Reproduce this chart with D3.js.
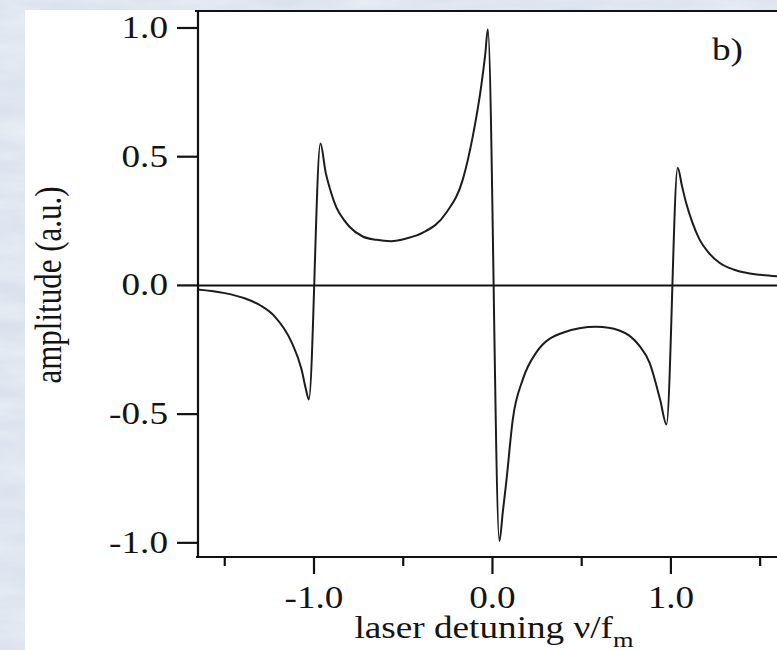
<!DOCTYPE html>
<html>
<head>
<meta charset="utf-8">
<script src="https://cdn.jsdelivr.net/npm/d3@7"></script>
<style>
  body { margin: 0; background: #dfe6f1; }
  svg { display: block; }
  text { font-family: "Liberation Serif", "Times New Roman", serif; fill: #141414; }
</style>
</head>
<body>
<svg id="chart" width="777" height="650"></svg>
<script>
// detuning (v / f_m)
const detuning = [-1.653, -1.50, -1.389, -1.30, -1.221, -1.126, -1.07, -1.045, -1.029,
  -0.964, -0.935, -0.904, -0.876, -0.829, -0.801, -0.727, -0.65, -0.568, -0.48, -0.39,
  -0.259, -0.166, -0.11, -0.063, -0.040, -0.026,
  0.039, 0.058, 0.077, 0.114, 0.17, 0.245, 0.394, 0.581, 0.65, 0.711, 0.767, 0.824, 0.88, 0.94, 0.975,
  1.038, 1.062, 1.085, 1.12, 1.16, 1.21, 1.272, 1.35, 1.421, 1.50, 1.6]
// amplitude (a.u.)
const amplitude = [-0.016, -0.030, -0.050, -0.078, -0.12, -0.22, -0.326, -0.404, -0.443,
  0.551, 0.44, 0.36, 0.305, 0.252, 0.228, 0.190, 0.177, 0.172, 0.183, 0.205,
  0.282, 0.412, 0.58, 0.774, 0.90, 0.995,
  -0.993, -0.88, -0.766, -0.52, -0.365, -0.261, -0.184, -0.161, -0.164, -0.175, -0.195, -0.235, -0.30, -0.445, -0.54,
  0.457, 0.386, 0.321, 0.245, 0.179, 0.128, 0.088, 0.062, 0.049, 0.041, 0.035]

const xMajor = [-1, 0, 1]
const xMajorLabels = ['-1.0', '0.0', '1.0']
const xMinor = [-1.5, -0.5, 0.5, 1.5]
const yTicks = [-1, -0.5, 0, 0.5, 1]
const yTickLabels = ['-1.0', '-0.5', '0.0', '0.5', '1.0']

const svg = d3.select('#chart')
const stretch = 'scale(1.2,1)'

// marbled backdrop
const defs = svg.append('defs')
const marble = defs.append('filter').attr('id', 'marble')
  .attr('x', 0).attr('y', 0).attr('width', '100%').attr('height', '100%')
marble.append('feTurbulence')
  .attr('type', 'fractalNoise')
  .attr('baseFrequency', '0.012 0.05')
  .attr('numOctaves', 4)
  .attr('seed', 3)
marble.append('feColorMatrix')
  .attr('type', 'matrix')
  .attr('values', '0 0 0 0 1  0 0 0 0 1  0 0 0 0 1  0.7 0 0 0 -0.2')

svg.append('rect').attr('width', 777).attr('height', 650).attr('fill', '#dae2ee')
svg.append('rect').attr('width', 777).attr('height', 650).attr('filter', 'url(#marble)')
svg.append('rect').attr('x', 25).attr('y', 10).attr('width', 752).attr('height', 640).attr('fill', '#ffffff')

const x = d3.scaleLinear().domain([-1.65, 1.6]).range([198, 778])
const y = d3.scaleLinear().domain([-1.055, 1.066]).range([557, 11])

// zero line
svg.append('line')
  .attr('x1', x(-1.65)).attr('x2', 777)
  .attr('y1', y(0)).attr('y2', y(0))
  .attr('stroke', '#111').attr('stroke-width', 2)

// curve
const pts = detuning.map((d, i) => [d, amplitude[i]])
const line = d3.line()
  .x(d => x(d[0]))
  .y(d => y(d[1]))
  .curve(d3.curveMonotoneX)

svg.append('path')
  .datum(pts)
  .attr('d', line)
  .attr('fill', 'none')
  .attr('stroke', '#1c1c1c')
  .attr('stroke-width', 2)
  .attr('stroke-linejoin', 'round')

// frame: left, top, bottom
const frame = svg.append('g').attr('stroke', '#111').attr('stroke-width', 2.2)
frame.append('line').attr('x1', 198).attr('x2', 198).attr('y1', 10).attr('y2', 558)
frame.append('line').attr('x1', 195).attr('x2', 777).attr('y1', 11).attr('y2', 11)
frame.append('line').attr('x1', 196).attr('x2', 777).attr('y1', 557).attr('y2', 557)

// y ticks
frame.selectAll('.ytick')
  .data(yTicks)
  .join('line')
  .attr('x1', 177).attr('x2', 198)
  .attr('y1', d => y(d)).attr('y2', d => y(d))

svg.selectAll('.ylab')
  .data(yTicks)
  .join('text')
  .attr('transform', d => `translate(168,${y(d) + 10}) ${stretch}`)
  .attr('text-anchor', 'end')
  .attr('font-size', 31)
  .text((d, i) => yTickLabels[i])

// x ticks
frame.selectAll('.xmajor')
  .data(xMajor)
  .join('line')
  .attr('x1', d => x(d)).attr('x2', d => x(d))
  .attr('y1', 557).attr('y2', 574)
frame.selectAll('.xminor')
  .data(xMinor)
  .join('line')
  .attr('x1', d => x(d)).attr('x2', d => x(d))
  .attr('y1', 557).attr('y2', 566)

svg.selectAll('.xlab')
  .data(xMajor)
  .join('text')
  .attr('transform', d => `translate(${x(d)},608) ${stretch}`)
  .attr('text-anchor', 'middle')
  .attr('font-size', 31)
  .text((d, i) => xMajorLabels[i])

// axis titles
const xt = svg.append('text')
  .attr('transform', `translate(494,638) ${stretch}`)
  .attr('text-anchor', 'middle')
  .attr('font-size', 31)
xt.append('tspan').text('laser detuning \u03bd/f')
xt.append('tspan').attr('font-size', 22).attr('dy', 9).text('m')

svg.append('text')
  .attr('transform', `translate(61,285) ${stretch} rotate(-90)`)
  .attr('text-anchor', 'middle')
  .attr('font-size', 31)
  .text('amplitude (a.u.)')

svg.append('text')
  .attr('transform', `translate(712,60) ${stretch}`)
  .attr('font-size', 31)
  .text('b)')
</script>
</body>
</html>
